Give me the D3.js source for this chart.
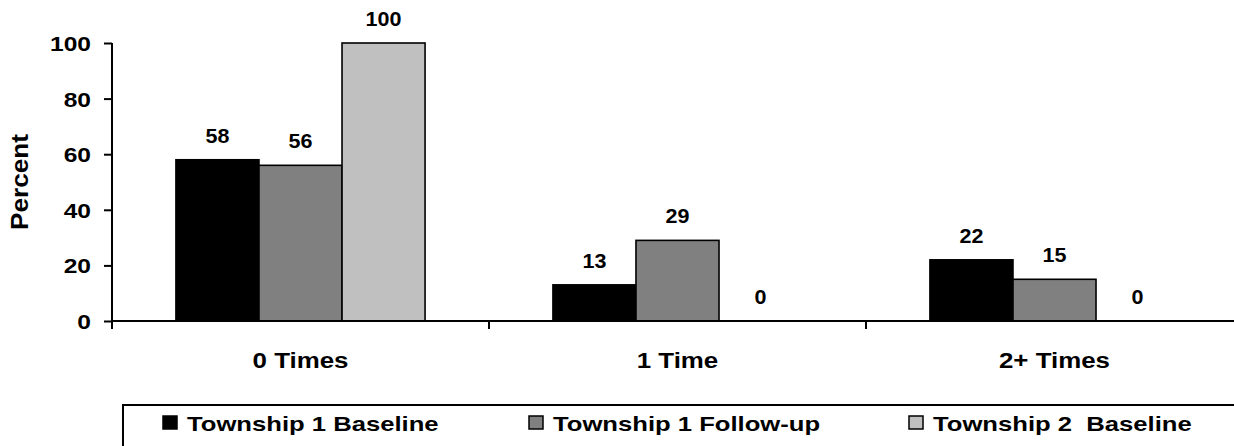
<!DOCTYPE html>
<html>
<head>
<meta charset="utf-8">
<script src="https://cdn.jsdelivr.net/npm/d3@7"></script>
<style>
  html, body { margin: 0; padding: 0; background: #fff; }
  text { font-family: "Liberation Sans", Arial, sans-serif; font-weight: bold; fill: #000; }
</style>
</head>
<body>
<svg id="chart" width="1234" height="446"></svg>
<script>
const categories = ["0 Times", "1 Time", "2+ Times"];
const seriesNames = ["Township 1 Baseline", "Township 1 Follow-up", "Township 2  Baseline"];
const township1Baseline = [58, 13, 22];
const township1FollowUp = [56, 29, 15];
const township2Baseline = [100, 0, 0];
const yTicks = [0, 20, 40, 60, 80, 100];
const colors = ["#000000", "#808080", "#c0c0c0"];

const seriesValues = [township1Baseline, township1FollowUp, township2Baseline];

(function () {
const svg = d3.select("#chart");
const plotLeft = 112, plotTop = 43, plotBottom = 321;
const bandW = 377;

const x = d3.scaleBand().domain(categories).range([plotLeft, plotLeft + bandW * categories.length]).padding(0);
const xs = d3.scaleBand().domain(seriesNames).range([0, x.bandwidth()]).paddingInner(0).paddingOuter(0.77);
const y = d3.scaleLinear().domain([0, 100]).range([plotBottom, plotTop]);

function stretch(sel, sx) {
  sel.each(function() {
    const w = this.getComputedTextLength();
    d3.select(this).attr("textLength", w * sx).attr("lengthAdjust", "spacingAndGlyphs");
  });
}

// bars
const groups = svg.append("g").selectAll("g")
  .data(categories)
  .join("g")
  .attr("transform", d => `translate(${x(d)},0)`);

groups.each(function(cat, ci) {
  const g = d3.select(this);
  seriesNames.forEach((s, si) => {
    const v = seriesValues[si][ci];
    if (v > 0) {
      g.append("rect")
        .attr("x", xs(s))
        .attr("y", y(v))
        .attr("width", xs.bandwidth())
        .attr("height", y(0) - y(v))
        .attr("fill", colors[si])
        .attr("stroke", "#000")
        .attr("stroke-width", 1.6);
    }
    const t = g.append("text")
      .attr("x", xs(s) + xs.bandwidth() / 2)
      .attr("y", y(v) - 17)
      .attr("text-anchor", "middle")
      .attr("font-size", 20.5)
      .text(v);
    stretch(t, 1.05);
  });
});

// y axis
const yAxis = svg.append("g")
  .attr("transform", `translate(${plotLeft},0)`)
  .call(d3.axisLeft(y).tickValues(yTicks).tickSize(8).tickSizeOuter(0).tickPadding(13));
yAxis.select(".domain").remove();
yAxis.selectAll(".tick line").attr("stroke", "#000").attr("stroke-width", 2);
yAxis.selectAll(".tick text")
  .attr("font-size", 21)
  .attr("font-family", "Liberation Sans, Arial, sans-serif")
  .attr("font-weight", "bold")
  .attr("fill", "#000")
  .attr("dy", "0.36em");
stretch(yAxis.selectAll(".tick text"), 1.17);
svg.append("line")
  .attr("x1", plotLeft).attr("x2", plotLeft)
  .attr("y1", plotTop).attr("y2", plotBottom + 8)
  .attr("stroke", "#000").attr("stroke-width", 2);

// x axis
svg.append("line")
  .attr("x1", plotLeft).attr("x2", 1240)
  .attr("y1", plotBottom).attr("y2", plotBottom)
  .attr("stroke", "#000").attr("stroke-width", 2);
svg.append("g").selectAll("line")
  .data(categories.slice(1))
  .join("line")
  .attr("x1", d => x(d)).attr("x2", d => x(d))
  .attr("y1", plotBottom).attr("y2", plotBottom + 8)
  .attr("stroke", "#000").attr("stroke-width", 2);

const catLabels = svg.append("g").selectAll("text")
  .data(categories)
  .join("text")
  .attr("x", d => x(d) + x.bandwidth() / 2)
  .attr("y", 368)
  .attr("text-anchor", "middle")
  .attr("font-size", 22.5)
  .text(d => d);
stretch(catLabels, 1.15);

// y title
svg.append("text")
  .attr("transform", "translate(28,182) rotate(-90)")
  .attr("text-anchor", "middle")
  .attr("font-size", 23)
  .attr("textLength", 96)
  .attr("lengthAdjust", "spacingAndGlyphs")
  .text("Percent");

// legend
svg.append("rect")
  .attr("x", 123).attr("y", 405)
  .attr("width", 1200).attr("height", 100)
  .attr("fill", "none").attr("stroke", "#000").attr("stroke-width", 2);

const legendX = [163, 529, 909];
seriesNames.forEach((s, i) => {
  svg.append("rect")
    .attr("x", legendX[i]).attr("y", 416)
    .attr("width", 14).attr("height", 13)
    .attr("fill", colors[i]).attr("stroke", "#000").attr("stroke-width", 1.5);
  const t = svg.append("text")
    .attr("x", legendX[i] + 24)
    .attr("y", 430.5)
    .attr("font-size", 20.5)
    .style("white-space", "pre")
    .text(s);
  stretch(t, 1.25);
});
})();
</script>
</body>
</html>
